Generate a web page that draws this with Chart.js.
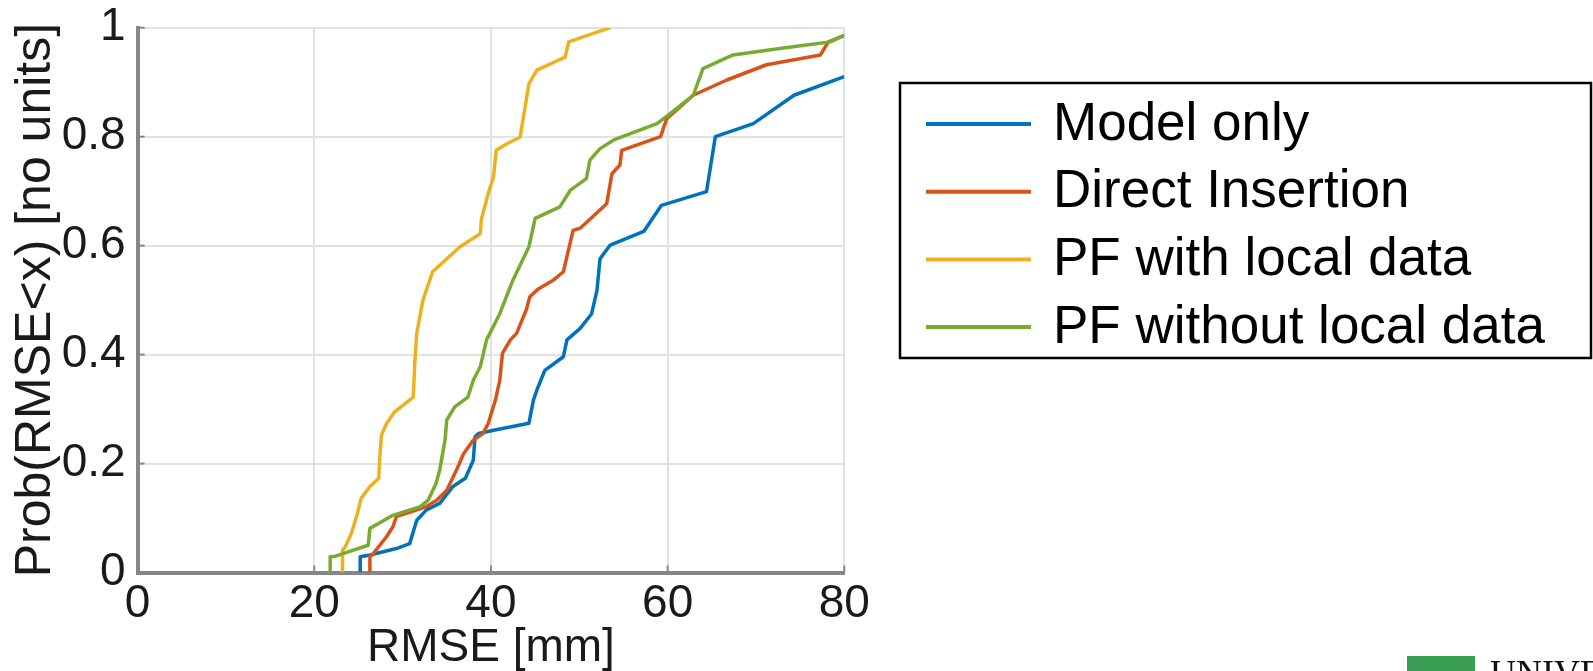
<!DOCTYPE html>
<html lang="en">

<head>
  <title>RMSE CDF</title>
  <script src="https://cdn.jsdelivr.net/npm/chart.js"></script>
  <meta charset="utf-8"/>
  <style>
    html, body {
      margin: 0;
      padding: 0;
      background: #fff;
      overflow: hidden;
    }

    #chart {
      position: relative;
      width: 1593px;
      height: 671px;
    }

    #logo {
      position: absolute;
      left: 1407px;
      top: 656px;
      width: 68px;
      height: 20px;
      background: #3a9d54;
    }

    #logo_text {
      position: absolute;
      left: 1490px;
      top: 652px;
      font: 36px "Liberation Serif", "DejaVu Serif", serif;
      color: #111;
      white-space: nowrap;
    }
  </style>
</head>

<body>
  <div id="chart">
    <canvas id="my_chart" width="1593" height="671"></canvas>
    <div id="logo"></div>
    <div id="logo_text">UNIVERSITY</div>
  </div>

<script>
var seriesLabels = ['Model only', 'Direct Insertion', 'PF with local data', 'PF without local data'];

// RMSE [mm] on x, Prob(RMSE<x) on y
var modelOnlyX = [25.2, 25.2, 26.3, 29.3, 30.8, 31.6, 32.7, 34.2, 35.7, 37.1, 38.0, 38.2, 38.6, 40.3, 44.3, 44.8,
  45.2, 46.1, 48.2, 48.6, 50.1, 51.4, 52.0, 52.35, 53.5, 57.3, 59.3, 64.4, 65.4, 69.7, 74.3, 80];
var modelOnlyP = [0, 0.029, 0.032, 0.044, 0.053, 0.096, 0.115, 0.127, 0.158, 0.173, 0.206, 0.249, 0.255, 0.261, 0.274, 0.316,
  0.335, 0.371, 0.396, 0.427, 0.448, 0.475, 0.518, 0.576, 0.601, 0.626, 0.674, 0.699, 0.8, 0.824, 0.876, 0.91];

var directX = [26.3, 26.3, 26.7, 28.2, 28.9, 29.3, 30.5, 32.7, 33.9, 35.0, 36.1, 36.9, 38.0, 39.1, 39.7, 40.5, 41.0,
  41.3, 42.2, 42.9, 44.0, 44.4, 45.4, 47.1, 48.2, 49.3, 50.1, 53.1, 53.7, 54.6, 54.8, 59.2, 59.9, 62.9, 66.7,
  71.2, 77.3, 78.2, 80];
var directP = [0, 0.029, 0.035, 0.066, 0.084, 0.103, 0.109, 0.121, 0.133, 0.151, 0.188, 0.218, 0.243, 0.255, 0.274, 0.316, 0.353,
  0.402, 0.427, 0.439, 0.482, 0.506, 0.521, 0.537, 0.552, 0.628, 0.632, 0.677, 0.732, 0.748, 0.775, 0.8, 0.833, 0.876, 0.904,
  0.932, 0.95, 0.974, 0.986];

var pfLocalX = [23.2, 23.2, 23.5, 24.2, 24.9, 25.3, 26.3, 27.3, 27.4, 27.6, 28.2, 29.1, 31.2, 31.4, 31.6, 32.3, 33.4,
  36.5, 38.8, 38.9, 39.7, 40.3, 40.6, 41.8, 43.3, 44.3, 45.2, 48.4, 48.8, 52.0, 53.5];
var pfLocalP = [0, 0.041, 0.047, 0.072, 0.109, 0.136, 0.158, 0.173, 0.206, 0.252, 0.274, 0.295, 0.322, 0.39, 0.439, 0.5, 0.552,
  0.598, 0.622, 0.647, 0.696, 0.727, 0.775, 0.787, 0.799, 0.897, 0.922, 0.946, 0.974, 0.992, 1.0];

var pfNoLocalX = [21.8, 21.8, 22.4, 26.1, 26.3, 28.9, 32.0, 32.9, 33.8, 34.2, 34.8, 35.0, 35.9, 37.4, 38.0, 38.8, 39.5,
  41.0, 42.5, 44.3, 45.0, 47.8, 49.0, 50.8, 51.2, 52.35, 53.9, 58.8, 60.1, 62.9, 64.0, 67.4, 72.7, 78.4, 80];
var pfNoLocalP = [0, 0.029, 0.03, 0.05, 0.081, 0.105, 0.121, 0.133, 0.164, 0.188, 0.243, 0.28, 0.304, 0.322, 0.353, 0.378, 0.427,
  0.475, 0.537, 0.598, 0.65, 0.671, 0.702, 0.723, 0.757, 0.778, 0.794, 0.824, 0.84, 0.876, 0.925, 0.95, 0.962, 0.974, 0.986];

var xTicks = [0, 20, 40, 60, 80];
var yTicks = [0, 0.2, 0.4, 0.6, 0.8, 1];

// matlab default line colours
const LINE_COLORS = ['#0072BD', '#D95319', '#EDB120', '#77AC30'];
const AXIS_COLOR = '#878787';
const TEXT_COLOR = '#1a1a1a';
const FONT = '"Liberation Sans", Arial, Helvetica, sans-serif';

function toPoints(xs, ps) {
  return xs.map((x, i) => ({ x: x, y: ps[i] }));
}

function getDatasets() {
  const pairs = [
    [modelOnlyX, modelOnlyP],
    [directX, directP],
    [pfLocalX, pfLocalP],
    [pfNoLocalX, pfNoLocalP]
  ];
  return pairs.map((pair, i) => ({
    label: seriesLabels[i],
    data: toPoints(pair[0], pair[1]),
    borderColor: LINE_COLORS[i],
    backgroundColor: LINE_COLORS[i],
    borderWidth: 3.5,
    pointRadius: 0,
    tension: 0,
    borderJoinStyle: 'round',
    order: 4 - i
  }));
}

// matlab style ticks pointing into the plot
const innerTicks = {
  id: 'innerTicks',
  afterDraw(chart) {
    const { ctx, chartArea, scales } = chart;
    ctx.save();
    ctx.strokeStyle = AXIS_COLOR;
    ctx.lineWidth = 2;
    xTicks.forEach(v => {
      const px = scales.x.getPixelForValue(v);
      ctx.beginPath();
      ctx.moveTo(px, chartArea.bottom);
      ctx.lineTo(px, chartArea.bottom - 7);
      ctx.stroke();
    });
    yTicks.forEach(v => {
      const py = scales.y.getPixelForValue(v);
      ctx.beginPath();
      ctx.moveTo(chartArea.left, py);
      ctx.lineTo(chartArea.left + 7, py);
      ctx.stroke();
    });
    ctx.restore();
  }
};

// boxed legend to the right of the axes
const boxLegend = {
  id: 'boxLegend',
  afterDraw(chart) {
    const { ctx } = chart;
    const left = 900, top = 83, right = 1591, bottom = 358;
    const rowGap = 67.7, firstRow = 124;
    ctx.save();
    ctx.strokeStyle = '#000';
    ctx.lineWidth = 2.5;
    ctx.strokeRect(left, top, right - left, bottom - top);
    ctx.font = '53px ' + FONT;
    ctx.textBaseline = 'middle';
    ctx.textAlign = 'left';
    chart.data.datasets.forEach((ds, i) => {
      const y = firstRow + i * rowGap;
      ctx.strokeStyle = ds.borderColor;
      ctx.lineWidth = 4;
      ctx.beginPath();
      ctx.moveTo(926, y);
      ctx.lineTo(1031, y);
      ctx.stroke();
      ctx.fillStyle = '#000';
      ctx.fillText(ds.label, 1053, y + 1);
    });
    ctx.restore();
  }
};

var cdfChart;
window.onload = function () {
  const config = {
    type: 'line',
    data: { datasets: getDatasets() },
    options: {
      responsive: false,
      animation: false,
      layout: {
        padding: { left: 0, top: 27.7, right: 748.7, bottom: 0 }
      },
      plugins: {
        legend: { display: false },
        tooltip: { enabled: false }
      },
      scales: {
        x: {
          type: 'linear',
          min: 0,
          max: 80,
          afterFit: (scale) => { scale.height = 98.5; },
          afterBuildTicks: (scale) => { scale.ticks = xTicks.map(v => ({ value: v })); },
          border: { color: AXIS_COLOR, width: 4 },
          grid: { color: '#e2e2e2', lineWidth: 2, drawTicks: false },
          ticks: {
            color: TEXT_COLOR,
            padding: 4,
            maxRotation: 0,
            callback: (v) => String(v),
            font: { family: FONT, size: 46, lineHeight: 1.2 }
          },
          title: {
            display: true,
            text: 'RMSE [mm]',
            color: TEXT_COLOR,
            padding: { top: 0, bottom: 0 },
            font: { family: FONT, size: 46, lineHeight: 1 }
          }
        },
        y: {
          type: 'linear',
          min: 0,
          max: 1,
          afterFit: (scale) => { scale.width = 137.6; },
          afterBuildTicks: (scale) => { scale.ticks = yTicks.map(v => ({ value: v })); },
          border: { color: AXIS_COLOR, width: 4 },
          grid: { color: '#e2e2e2', lineWidth: 2, drawTicks: false },
          ticks: {
            color: TEXT_COLOR,
            padding: 12,
            callback: (v) => String(v),
            font: { family: FONT, size: 46, lineHeight: 0.5 }
          },
          title: {
            display: true,
            text: 'Prob(RMSE<x) [no units]',
            color: TEXT_COLOR,
            padding: { top: 11, bottom: 0 },
            font: { family: FONT, size: 50, lineHeight: 1 }
          }
        }
      }
    },
    plugins: [innerTicks, boxLegend]
  };

  const ctx = document.getElementById('my_chart').getContext('2d');
  cdfChart = new Chart(ctx, config);
}
</script>

</body>

</html>
